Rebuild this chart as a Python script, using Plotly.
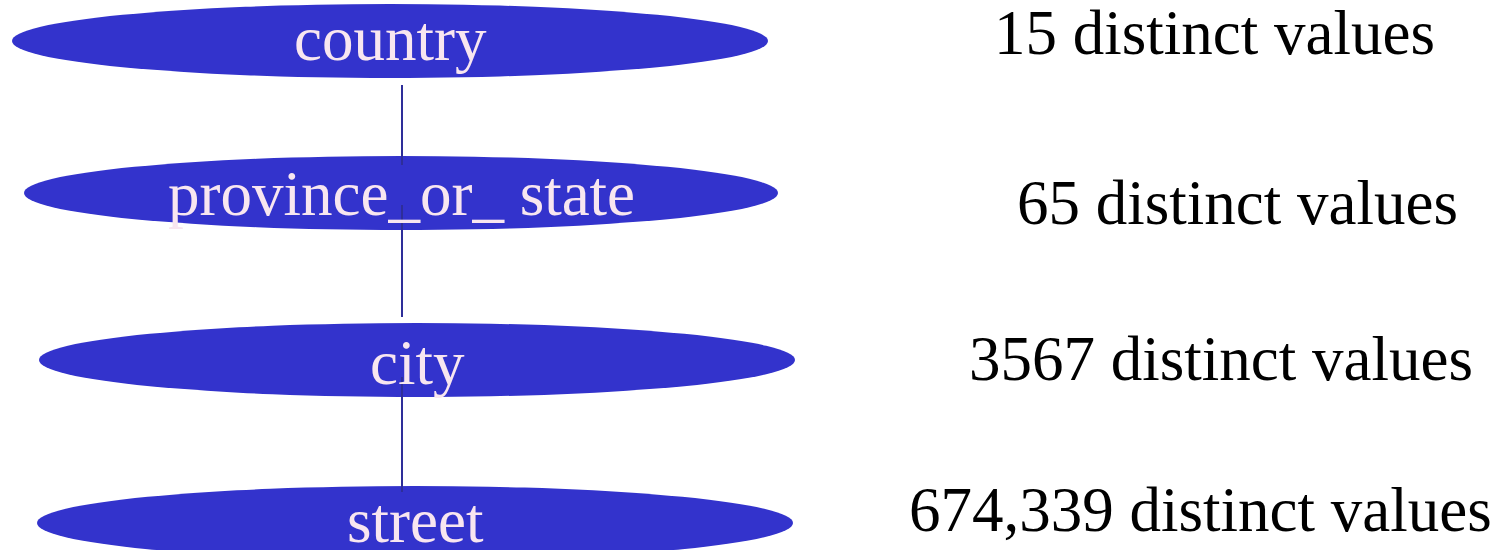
import plotly.graph_objects as go

# Data
levels = ["country", "province_or_ state", "city", "street"]
distinct_counts = ["15", "65", "3567", "674,339"]

# Layout constants (page-pixel space)
W, H = 1507, 550
ell_cx = [390, 401, 417, 415]
ell_cy = [41, 193, 360, 523]
ell_rx = [378, 377, 378, 378]
ell_ry = [37, 37, 37, 37]
label_y = [39, 194, 363, 521]
count_x = [1214, 1237, 1221, 1200]
count_y = [33, 203, 359, 510]
line_x = 402
line_segments = [(85, 165), (205, 317), (377, 492)]

FILL = "#3333cc"
LINE = "#2e2e99"
LABEL = "#f8e6f0"
FONT = "Liberation Serif, Times New Roman, serif"
SIZE = 63

fig = go.Figure()

shapes = []
for cx, cy, rx, ry in zip(ell_cx, ell_cy, ell_rx, ell_ry):
    shapes.append(dict(type="circle", xref="x", yref="y",
                       x0=cx - rx, x1=cx + rx, y0=cy - ry, y1=cy + ry,
                       fillcolor=FILL, line=dict(width=0), layer="below"))
for y0, y1 in line_segments:
    shapes.append(dict(type="line", xref="x", yref="y",
                       x0=line_x, x1=line_x, y0=y0, y1=y1,
                       line=dict(color=LINE, width=2), layer="above"))

annotations = []
for name, cx, ly in zip(levels, ell_cx, label_y):
    annotations.append(dict(x=cx, y=ly, xref="x", yref="y", text=name,
                            showarrow=False, xanchor="center", yanchor="middle",
                            font=dict(family=FONT, size=SIZE, color=LABEL)))
for cnt, cx, cy in zip(distinct_counts, count_x, count_y):
    annotations.append(dict(x=cx, y=cy, xref="x", yref="y",
                            text=f"{cnt} distinct values",
                            showarrow=False, xanchor="center", yanchor="middle",
                            font=dict(family=FONT, size=SIZE, color="#000000")))

fig.update_layout(
    width=W, height=H,
    margin=dict(l=0, r=0, t=0, b=0),
    paper_bgcolor="white", plot_bgcolor="white",
    showlegend=False,
    shapes=shapes,
    annotations=annotations,
    xaxis=dict(range=[0, W], visible=False, fixedrange=True),
    yaxis=dict(range=[H, 0], visible=False, fixedrange=True),
)

fig.write_html("out.html", config={"displayModeBar": False},
               post_script="document.body.style.margin='0';document.body.style.overflow='hidden';")
